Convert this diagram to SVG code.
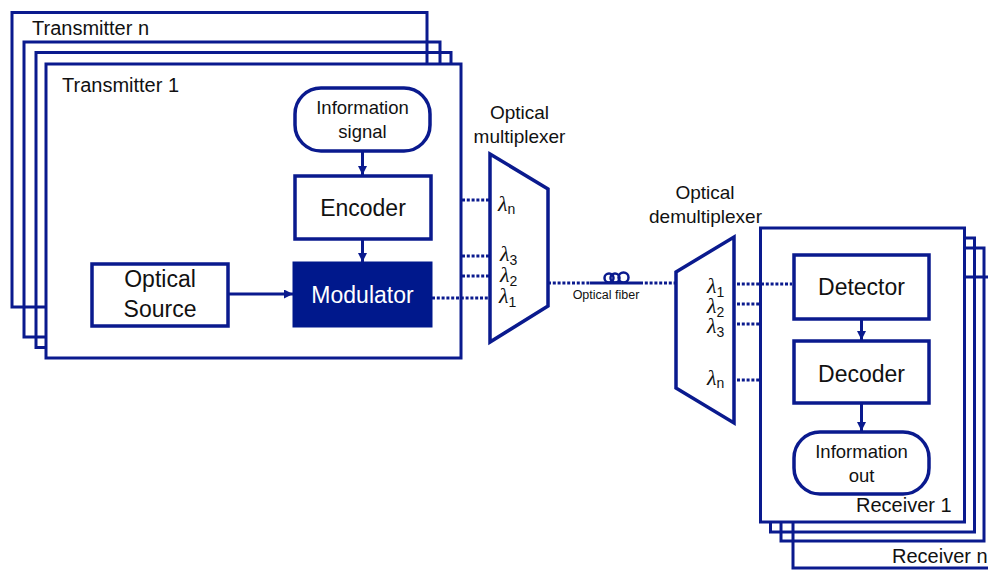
<svg xmlns="http://www.w3.org/2000/svg" width="988" height="571" viewBox="0 0 988 571">
<defs>
<style>
.frame{fill:none;stroke:#0a1a8e;stroke-width:3}
.frame1{fill:#fff;stroke:#0a1a8e;stroke-width:3}
.box{fill:#fff;stroke:#0a1a8e;stroke-width:3.5}
.mod{fill:#00188c;stroke:#00188c;stroke-width:3}
.trap{fill:#fff;stroke:#0a1a8e;stroke-width:3.5}
.t{font-family:"Liberation Sans",Arial,sans-serif;fill:#111}
.big{font-size:23px;text-anchor:middle}
.mid{font-size:18.5px;text-anchor:middle}
.lbl{font-size:19px;text-anchor:middle}
.frm{font-size:20px}
.lam{font-family:"Liberation Serif","DejaVu Serif",serif;font-style:italic;font-size:22px;fill:#111}
.sub{font-family:"Liberation Sans",Arial,sans-serif;font-style:normal;font-size:14px}
.dot{fill:none;stroke:#0a1a8e;stroke-width:3;stroke-dasharray:3 1.8}
.solid{fill:none;stroke:#0a1a8e;stroke-width:3}
.coil{fill:none;stroke:#0a1a8e;stroke-width:2.5}
</style>
<marker id="ah" viewBox="0 0 10 10" refX="10" refY="5" markerWidth="9" markerHeight="9" markerUnits="userSpaceOnUse" orient="auto">
<path d="M0,0 L10,5 L0,10 z" fill="#0a1a8e"/>
</marker>
</defs>
<rect width="988" height="571" fill="#fff"/>

<g id="transmitter-n">
<rect class="frame" x="12" y="12.5" width="415" height="294.5"/>
<text class="t frm" x="32" y="35">Transmitter n</text>
</g>
<g id="transmitter-3">
<rect class="frame" x="24" y="42" width="416" height="295"/>
</g>
<g id="transmitter-2">
<rect class="frame" x="36" y="52.5" width="415" height="295"/>
</g>
<g id="transmitter-1">
<rect class="frame1" x="46" y="64" width="415" height="294"/>
<text class="t frm" x="62" y="92">Transmitter 1</text>
</g>

<g id="information-signal">
<rect class="box" x="295" y="88" width="135" height="63" rx="26"/>
<text class="t mid" x="362.5" y="114">Information</text>
<text class="t mid" x="362.5" y="138">signal</text>
</g>
<g id="encoder">
<rect class="box" x="295" y="176" width="136" height="63"/>
<text class="t big" x="363" y="216">Encoder</text>
</g>
<g id="optical-source">
<rect class="box" x="92" y="264" width="136" height="62"/>
<text class="t big" x="160" y="287">Optical</text>
<text class="t big" x="160" y="317">Source</text>
</g>
<g id="modulator">
<rect class="mod" x="294" y="263" width="137" height="63"/>
<text class="t big" x="362.5" y="303" style="fill:#fff">Modulator</text>
</g>

<g id="optical-multiplexer">
<polygon class="trap" points="490,154 548,189 548,306 490,342"/>
<text class="t lbl" x="519.5" y="119">Optical</text>
<text class="t lbl" x="519.5" y="143">multiplexer</text>
<text class="lam" x="498" y="211">λ<tspan class="sub" dy="3">n</tspan></text>
<text class="lam" x="500" y="261">λ<tspan class="sub" dy="4">3</tspan></text>
<text class="lam" x="500" y="282">λ<tspan class="sub" dy="4">2</tspan></text>
<text class="lam" x="499" y="303">λ<tspan class="sub" dy="4">1</tspan></text>
</g>

<g id="optical-fiber">
<circle class="coil" cx="609" cy="278" r="4.5"/>
<circle class="coil" cx="615" cy="278" r="4.5"/>
<circle class="coil" cx="623.5" cy="277.5" r="5"/>
<text class="t" x="606" y="299" style="font-size:12.5px;text-anchor:middle">Optical fiber</text>
</g>

<g id="optical-demultiplexer">
<polygon class="trap" points="676,272 734,237 734,423 676,388"/>
<text class="t lbl" x="705" y="199">Optical</text>
<text class="t lbl" x="705.5" y="223">demultiplexer</text>
<text class="lam" x="707" y="293">λ<tspan class="sub" dy="4">1</tspan></text>
<text class="lam" x="707" y="313">λ<tspan class="sub" dy="4">2</tspan></text>
<text class="lam" x="707" y="333">λ<tspan class="sub" dy="4">3</tspan></text>
<text class="lam" x="707" y="385">λ<tspan class="sub" dy="3">n</tspan></text>
</g>

<g id="receiver-n">
<rect class="frame" x="793" y="277" width="210" height="291"/>
<text class="t frm" x="892" y="563">Receiver n</text>
</g>
<g id="receiver-3">
<rect class="frame" x="781" y="248" width="203" height="293"/>
</g>
<g id="receiver-2">
<rect class="frame" x="770.5" y="238" width="204" height="294"/>
</g>
<g id="receiver-1">
<rect class="frame1" x="760.5" y="228" width="204" height="294"/>
<text class="t frm" x="856" y="512">Receiver 1</text>
</g>

<g id="detector">
<rect class="box" x="794" y="255" width="135" height="64"/>
<text class="t big" x="861.5" y="295">Detector</text>
</g>
<g id="decoder">
<rect class="box" x="794" y="341" width="135" height="62"/>
<text class="t big" x="861.5" y="382">Decoder</text>
</g>
<g id="information-out">
<rect class="box" x="794" y="432" width="135" height="62" rx="26"/>
<text class="t mid" x="861.5" y="458">Information</text>
<text class="t mid" x="861.5" y="482">out</text>
</g>

<g id="connectors">
<line class="solid" x1="362.5" y1="151" x2="362.5" y2="175" marker-end="url(#ah)"/>
<line class="solid" x1="362.5" y1="239" x2="362.5" y2="262" marker-end="url(#ah)"/>
<line class="solid" x1="228" y1="294" x2="293" y2="294" marker-end="url(#ah)"/>
<line class="dot" x1="462" y1="200" x2="490" y2="200"/>
<line class="dot" x1="462" y1="256" x2="490" y2="256"/>
<line class="dot" x1="462" y1="276" x2="490" y2="276"/>
<line class="dot" x1="432" y1="298" x2="490" y2="298"/>
<line class="dot" x1="548" y1="283" x2="590" y2="283"/>
<line class="solid" x1="590" y1="283" x2="640" y2="283"/>
<line class="dot" x1="640" y1="283" x2="676" y2="283"/>
<line class="dot" x1="737" y1="284" x2="792" y2="284"/>
<line class="dot" x1="737" y1="304" x2="760" y2="304"/>
<line class="dot" x1="737" y1="324" x2="760" y2="324"/>
<line class="dot" x1="737" y1="380" x2="760" y2="380"/>
<line class="solid" x1="861.5" y1="319" x2="861.5" y2="340" marker-end="url(#ah)"/>
<line class="solid" x1="861.5" y1="403" x2="861.5" y2="431" marker-end="url(#ah)"/>
</g>
</svg>
